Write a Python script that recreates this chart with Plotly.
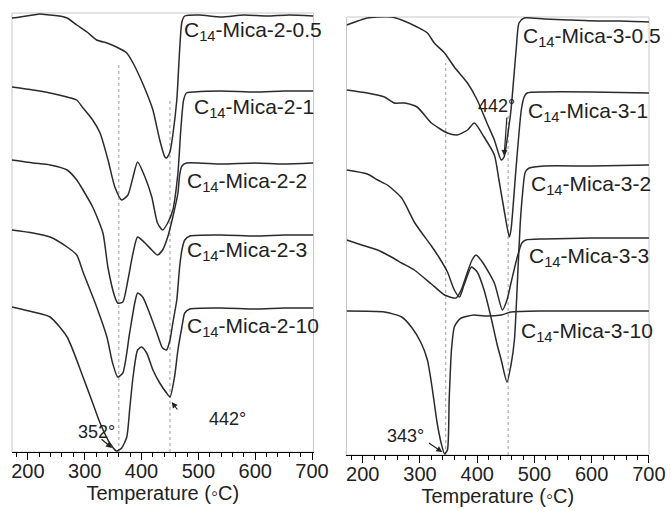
import plotly.graph_objects as go

# ---------------- Data (temperature in °C, DTG signal in arbitrary units) ----------------
# Left panel: C14-Mica-2 series
t_m2_05 = [172, 186, 209, 221, 239, 256, 269, 286, 304, 321, 339, 356, 374, 385, 397, 409, 420, 432, 441, 444, 450, 455, 462, 467, 471, 476, 502, 540, 580, 620, 660, 702]
s_m2_05 = [434, 435, 437, 438, 437, 436, 434, 427, 420, 412, 409, 405, 399, 389, 375, 359, 342, 312, 295, 294, 300, 317, 352, 402, 430, 436, 437, 435, 437, 436, 437, 436]

t_m2_1 = [172, 209, 239, 269, 286, 297, 314, 327, 341, 353, 365, 376, 385, 393, 406, 418, 428, 437, 446, 455, 464, 469, 474, 479, 493, 540, 600, 650, 702]
s_m2_1 = [365, 362, 359, 355, 352, 344, 332, 319, 292, 265, 252, 257, 275, 290, 275, 255, 229, 222, 229, 242, 279, 322, 352, 359, 360, 361, 360, 361, 361]

t_m2_2 = [172, 209, 239, 269, 286, 297, 314, 332, 341, 353, 358, 367, 376, 385, 393, 406, 418, 428, 437, 446, 455, 464, 467, 471, 479, 540, 600, 650, 702]
s_m2_2 = [292, 289, 287, 282, 272, 262, 245, 219, 184, 155, 149, 150, 172, 199, 215, 209, 202, 197, 202, 215, 235, 259, 277, 286, 289, 288, 289, 288, 289]

t_m2_3 = [172, 209, 239, 269, 286, 297, 321, 339, 349, 358, 367, 379, 388, 393, 402, 414, 427, 437, 444, 450, 455, 462, 467, 471, 476, 485, 540, 600, 650, 702]
s_m2_3 = [222, 219, 215, 205, 197, 180, 145, 115, 89, 75, 79, 119, 149, 159, 155, 139, 119, 104, 102, 112, 129, 152, 185, 202, 212, 216, 217, 216, 217, 217]

t_m2_10 = [172, 209, 239, 269, 297, 314, 327, 344, 356, 365, 374, 379, 385, 393, 400, 409, 420, 432, 444, 450, 458, 464, 471, 476, 485, 540, 600, 650, 702]
s_m2_10 = [145, 140, 135, 115, 75, 49, 29, 9, 1, 4, 15, 42, 75, 102, 105, 99, 82, 69, 59, 55, 75, 102, 125, 139, 143, 144, 143, 144, 144]

# Right panel: C14-Mica-3 series
t_m3_05 = [172, 208, 226, 250, 268, 295, 313, 325, 343, 360, 383, 400, 417, 430, 442, 447, 452, 459, 468, 473, 482, 517, 560, 610, 650, 700]
s_m3_05 = [430, 437, 438, 438, 435, 428, 422, 412, 402, 388, 372, 355, 332, 315, 295, 298, 315, 345, 405, 432, 437, 436, 435, 434, 434, 433]

t_m3_1 = [172, 208, 238, 255, 273, 295, 320, 348, 365, 383, 395, 412, 430, 438, 447, 456, 459, 468, 477, 482, 487, 517, 600, 700]
s_m3_1 = [365, 362, 358, 352, 352, 348, 332, 322, 320, 325, 332, 318, 300, 275, 245, 218, 225, 288, 345, 358, 362, 363, 363, 362]

t_m3_2 = [172, 208, 226, 243, 268, 290, 302, 320, 334, 348, 360, 369, 377, 390, 400, 412, 424, 435, 442, 452, 459, 465, 470, 475, 479, 484, 491, 517, 600, 700]
s_m3_2 = [285, 281, 275, 270, 257, 233, 223, 209, 197, 183, 165, 158, 170, 188, 183, 165, 138, 110, 95, 73, 90, 115, 170, 230, 260, 283, 287, 289, 289, 290]

t_m3_3 = [172, 198, 226, 250, 268, 290, 320, 343, 363, 372, 383, 391, 398, 409, 430, 444, 452, 459, 470, 478, 485, 517, 600, 700]
s_m3_3 = [215, 210, 205, 198, 192, 185, 171, 160, 157, 165, 183, 195, 200, 193, 172, 145, 155, 172, 198, 212, 215, 216, 217, 217]

t_m3_10 = [172, 238, 268, 285, 302, 313, 320, 325, 330, 337, 343, 348, 351, 355, 360, 365, 372, 394, 412, 442, 459, 517, 600, 700]
s_m3_10 = [144, 143, 138, 128, 112, 95, 72, 52, 32, 12, 1, 5, 55, 105, 128, 133, 137, 140, 139, 140, 143, 144, 144, 144]

labels_m2 = ["C<sub>14</sub>-Mica-2-0.5", "C<sub>14</sub>-Mica-2-1", "C<sub>14</sub>-Mica-2-2",
             "C<sub>14</sub>-Mica-2-3", "C<sub>14</sub>-Mica-2-10"]
labels_m3 = ["C<sub>14</sub>-Mica-3-0.5", "C<sub>14</sub>-Mica-3-1", "C<sub>14</sub>-Mica-3-2",
             "C<sub>14</sub>-Mica-3-3", "C<sub>14</sub>-Mica-3-10"]

# label anchor positions (temperature, signal)
lab_t_m2 = [471, 488, 476, 476, 476]
lab_s_m2 = [421, 344, 270, 201, 125]
lab_t_m3 = [477, 486, 491, 487, 473]
lab_s_m3 = [418, 343, 270, 198, 123]

# reference (peak) temperatures for dotted guide lines and their tops
guide_t_m2 = [360, 450]
guide_top_m2 = [387, 352]
guide_t_m3 = [345, 454]
guide_top_m3 = [392, 342]

x_ticks = [200, 300, 400, 500, 600, 700]

LINE = "#2b2b2b"
FONT = "Liberation Sans, Arial, sans-serif"

fig = go.Figure()

left = [(t_m2_05, s_m2_05), (t_m2_1, s_m2_1), (t_m2_2, s_m2_2), (t_m2_3, s_m2_3), (t_m2_10, s_m2_10)]
right = [(t_m3_05, s_m3_05), (t_m3_1, s_m3_1), (t_m3_2, s_m3_2), (t_m3_3, s_m3_3), (t_m3_10, s_m3_10)]

# dotted guides
for t, top in zip(guide_t_m2, guide_top_m2):
    fig.add_trace(go.Scatter(x=[t, t], y=[0, top], mode="lines", xaxis="x", yaxis="y",
                             line=dict(color="#9a9a9a", width=1, dash="dot"), showlegend=False, hoverinfo="skip"))
for t, top in zip(guide_t_m3, guide_top_m3):
    fig.add_trace(go.Scatter(x=[t, t], y=[0, top], mode="lines", xaxis="x2", yaxis="y2",
                             line=dict(color="#9a9a9a", width=1, dash="dot"), showlegend=False, hoverinfo="skip"))

for (t, s), name in zip(left, labels_m2):
    fig.add_trace(go.Scatter(x=t, y=s, mode="lines", xaxis="x", yaxis="y", name=name,
                             line=dict(color=LINE, width=1.5, shape="spline", smoothing=0.6), showlegend=False))
for (t, s), name in zip(right, labels_m3):
    fig.add_trace(go.Scatter(x=t, y=s, mode="lines", xaxis="x2", yaxis="y2", name=name,
                             line=dict(color=LINE, width=1.5, shape="spline", smoothing=0.6), showlegend=False))

ann = []
for txt, tx, sy in zip(labels_m2, lab_t_m2, lab_s_m2):
    ann.append(dict(x=tx, y=sy, xref="x", yref="y", text=txt, showarrow=False,
                    xanchor="left", yanchor="middle", font=dict(size=21, color="#222", family=FONT)))
for txt, tx, sy in zip(labels_m3, lab_t_m3, lab_s_m3):
    ann.append(dict(x=tx, y=sy, xref="x2", yref="y2", text=txt, showarrow=False,
                    xanchor="left", yanchor="middle", font=dict(size=21, color="#222", family=FONT)))

# peak annotations
pk = dict(size=18, color="#222", family=FONT)
ann += [
    dict(x=320, y=20, xref="x", yref="y", text="352°", showarrow=False, font=pk),
    dict(x=551, y=33, xref="x", yref="y", text="442°", showarrow=False, font=pk),
    dict(x=434, y=349, xref="x2", yref="y2", text="442°", showarrow=False, font=pk),
    dict(x=275, y=19, xref="x2", yref="y2", text="343°", showarrow=False, font=pk),
    # arrows
    dict(x=348, y=4, ax=327, ay=14, xref="x", yref="y", axref="x", ayref="y", text="", showarrow=True,
         arrowhead=2, arrowsize=1, arrowwidth=1.2, arrowcolor="#222"),
    dict(x=453, y=50, ax=465, ay=41, xref="x", yref="y", axref="x", ayref="y", text="", showarrow=True,
         arrowhead=2, arrowsize=1, arrowwidth=1.2, arrowcolor="#222"),
    dict(x=447, y=299, ax=452, ay=339, xref="x2", yref="y2", axref="x2", ayref="y2", text="", showarrow=True,
         arrowhead=2, arrowsize=1, arrowwidth=1.2, arrowcolor="#222"),
    dict(x=339, y=3, ax=313, ay=13, xref="x2", yref="y2", axref="x2", ayref="y2", text="", showarrow=True,
         arrowhead=2, arrowsize=1, arrowwidth=1.2, arrowcolor="#222"),
]

W, H = 671, 511          # target picture size (domains are laid out for this)
FIG_W = 687              # the page renders the figure 16 px narrower than requested
def xdom(a, b):
    return [a / W, b / W]
def ydom(top, bottom):
    return [1 - bottom / H, 1 - top / H]

xcommon = dict(showline=True, linecolor="black", linewidth=1, ticks="outside", ticklen=7, tickwidth=1,
               tickcolor="black", tickvals=x_ticks, showgrid=False, zeroline=False, ticklabelstandoff=-6,
               minor=dict(dtick=20, tick0=0, ticks="outside", ticklen=4, tickcolor="black", tickwidth=1, showgrid=False),
               tickfont=dict(size=20, color="#222", family=FONT),
               title=dict(text="Temperature (◦C)", font=dict(size=20, color="#222", family=FONT), standoff=0))
ycommon = dict(showline=False, showticklabels=False, ticks="", showgrid=False, zeroline=False)

fig.update_layout(
    width=FIG_W, height=H, autosize=False, margin=dict(l=0, r=0, t=0, b=0),
    paper_bgcolor="white", plot_bgcolor="white",
    xaxis=dict(domain=xdom(12, 314), range=[172, 702.6], anchor="y", **xcommon),
    yaxis=dict(domain=ydom(13, 452), range=[0, 439], anchor="x", **ycommon),
    xaxis2=dict(domain=xdom(347, 650), range=[171.6, 700.2], anchor="y2", **xcommon),
    yaxis2=dict(domain=ydom(17, 455), range=[0, 438], anchor="x2", **ycommon),
    annotations=ann,
    shapes=[
        dict(type="rect", xref="x domain", yref="y domain", x0=0, x1=1, y0=0, y1=1,
             line=dict(color="#c8c8c8", width=1), layer="below"),
        dict(type="rect", xref="x2 domain", yref="y2 domain", x0=0, x1=1, y0=0, y1=1,
             line=dict(color="#c8c8c8", width=1), layer="below"),
    ],
)

post = (
    "document.body.style.margin='0px';"
    "document.body.style.padding='0px';"
    "document.documentElement.style.overflow='hidden';"
    "document.body.style.overflow='hidden';"
)
fig.write_html("out.html", config={"displayModeBar": False, "responsive": False}, post_script=post)
